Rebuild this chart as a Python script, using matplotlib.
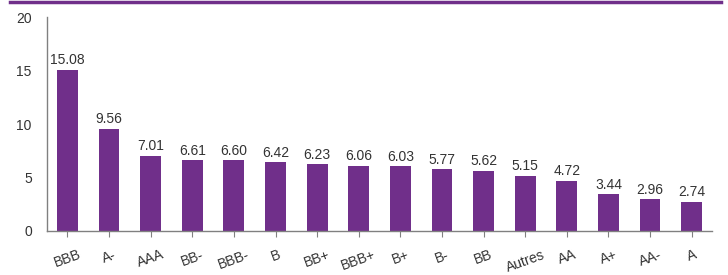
import matplotlib
matplotlib.use("Agg")
import matplotlib.pyplot as plt
from matplotlib.lines import Line2D

# ----- Data -----
ratings = ['BBB', 'A-', 'AAA', 'BB-', 'BBB-', 'B', 'BB+', 'BBB+', 'B+', 'B-',
           'BB', 'Autres', 'AA', 'A+', 'AA-', 'A']
values = [15.08, 9.56, 7.01, 6.61, 6.60, 6.42, 6.23, 6.06, 6.03, 5.77,
          5.62, 5.15, 4.72, 3.44, 2.96, 2.74]

purple = '#702F8A'
grey = '#808080'
plt.rcParams['font.family'] = ['Liberation Sans', 'DejaVu Sans']

fig = plt.figure(figsize=(7.28, 2.75), dpi=100)
ax = fig.add_axes([0.0646, 0.16, 0.9135, 0.778])

x = list(range(len(ratings)))
bars = ax.bar(x, values, width=0.5, color=purple)

# value labels
for xi, v in zip(x, values):
    ax.text(xi, v + 0.25, f'{v:.2f}', ha='center', va='bottom',
            fontsize=10, color='#333333')

ax.set_xlim(-0.49, len(ratings) - 0.51)
ax.set_ylim(0, 20)
ax.set_yticks([0, 5, 10, 15, 20])
ax.set_xticks(x)
ax.set_xticklabels(ratings, rotation=20, ha='center', fontsize=10, color='#333333')
ax.tick_params(axis='y', length=0, labelsize=10, labelcolor='#333333', pad=11)
ax.tick_params(axis='x', length=4, color=grey, pad=8)

for s in ['top', 'right']:
    ax.spines[s].set_visible(False)
for s in ['left', 'bottom']:
    ax.spines[s].set_color(grey)
    ax.spines[s].set_linewidth(1.0)

# purple rule at the top of the figure
fig.add_artist(Line2D([0.014, 0.99], [0.994, 0.994], color=purple, lw=2.5,
                      transform=fig.transFigure))

plt.savefig('out.png', dpi=100)
